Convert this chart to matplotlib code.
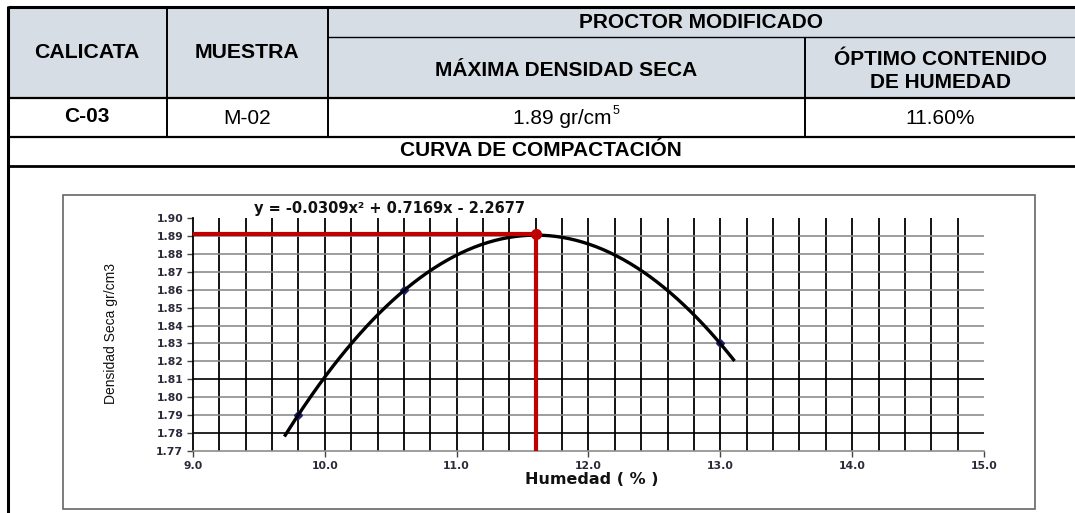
import matplotlib
matplotlib.use("Agg")
import matplotlib.pyplot as plt
from matplotlib import font_manager
from matplotlib.patches import Rectangle
import numpy as np

# table content
header_cols = ["CALICATA", "MUESTRA"]
proctor_title = "PROCTOR MODIFICADO"
proctor_cols = ["MÁXIMA DENSIDAD SECA", "ÓPTIMO CONTENIDO\nDE HUMEDAD"]
row_values = ["C-03", "M-02", "1.89 gr/cm", "11.60%"]
density_exp = "5"
section_title = "CURVA DE COMPACTACIÓN"

# chart data
humedad = [9.8, 10.6, 13.0]
densidad = [1.79, 1.86, 1.83]
trend_coef = [-0.0309, 0.7169, -2.2677]   # from the trendline equation
trend_range = [9.7, 13.1]
opt_humedad = 11.6
max_densidad = 1.891
equation = "y = -0.0309x² + 0.7169x - 2.2677"

names = {f.name for f in font_manager.fontManager.ttflist}
narrow = "Liberation Sans Narrow" if "Liberation Sans Narrow" in names else "Liberation Sans"

W, H = 1075, 513
fig = plt.figure(figsize=(W / 100, H / 100), dpi=100)
bg = fig.add_axes([0, 0, 1, 1])
bg.set_xlim(0, W)
bg.set_ylim(H, 0)
bg.axis("off")

head_fill = "#d7dde5"
bg.add_patch(Rectangle((8, 7), W - 8, 91, facecolor=head_fill, edgecolor="none"))

def hline(y, x0, x1, lw):
    bg.plot([x0, x1], [y, y], color="black", lw=lw, solid_capstyle="butt")

def vline(x, y0, y1, lw):
    bg.plot([x, x], [y0, y1], color="black", lw=lw, solid_capstyle="butt")

hline(7, 8, W, 2.2)
hline(37, 328, W, 1.0)
hline(98, 8, W, 1.6)
hline(137, 8, W, 1.6)
hline(166, 8, W, 2.0)
vline(8, 6, H, 2.2)
vline(167, 7, 137, 1.4)
vline(328, 7, 137, 1.4)
vline(805, 37, 137, 1.4)

tf = dict(family="Liberation Sans", ha="center", va="center", color="black")
bg.text(87, 53, header_cols[0], fontsize=15.3, weight="bold", **tf)
bg.text(247, 53, header_cols[1], fontsize=15.3, weight="bold", **tf)
bg.text(701, 22, proctor_title, fontsize=15, weight="bold", **tf)
bg.text(566, 70, proctor_cols[0], fontsize=15, weight="bold", **tf)
bg.text(940, 71, proctor_cols[1], fontsize=15, weight="bold", linespacing=1.3, **tf)
bg.text(87, 116, row_values[0], fontsize=15, weight="bold", **tf)
bg.text(247, 119, row_values[1], fontsize=15, **tf)
t = bg.text(562, 119, row_values[2], fontsize=15, **tf)
bg.annotate(density_exp, xy=(1, 0.62), xycoords=t, xytext=(1, 0),
            textcoords="offset points", fontsize=9, family="Liberation Sans",
            ha="left", va="bottom", color="black")
bg.text(940, 119, row_values[3], fontsize=15, **tf)
bg.text(541, 151, section_title, fontsize=15, weight="bold", **tf)

# chart frame
bg.add_patch(Rectangle((63, 195), 972, 314, facecolor="white", edgecolor="#666666", lw=1.2))

x0, x1, yt, yb = 193, 984, 218, 451
ax = fig.add_axes([x0 / W, 1 - yb / H, (x1 - x0) / W, (yb - yt) / H])
ax.set_xlim(9.0, 15.0)
ax.set_ylim(1.77, 1.90)
ax.patch.set_alpha(0)

for v in np.arange(9.2, 14.9, 0.2):
    ax.plot([v, v], [1.77, 1.90], color="black", lw=1.3, zorder=1)
for v in np.arange(1.78, 1.895, 0.01):
    dark = round(v, 2) in (1.78, 1.81)
    ax.plot([9.0, 15.0], [v, v], color="black" if dark else "#8c8c8c", lw=1.2, zorder=1)

for s in ["top", "right"]:
    ax.spines[s].set_visible(False)
ax.spines["left"].set_color("black")
ax.spines["left"].set_linewidth(1.3)
ax.spines["bottom"].set_color("#8c8c8c")
ax.spines["bottom"].set_linewidth(1.2)

yt_vals = np.round(np.arange(1.77, 1.905, 0.01), 2)
ax.set_yticks(yt_vals)
ax.set_yticklabels([f"{v:.2f}" for v in yt_vals])
ax.set_xticks(np.arange(9, 16, 1))
ax.set_xticklabels([f"{v:.1f}" for v in np.arange(9, 16, 1)])
ax.tick_params(axis="both", length=4, width=1, color="#444444", labelsize=7.8,
               labelcolor="#2a2a3a", pad=3)
for lab in ax.get_xticklabels() + ax.get_yticklabels():
    lab.set_fontweight("bold")

# data points and trend curve
ax.plot(humedad, densidad, linestyle="none", marker="D", ms=4, color="#1f1f7a", zorder=3)
xs = np.linspace(trend_range[0], trend_range[1], 200)
ax.plot(xs, np.polyval(trend_coef, xs), color="black", lw=2.4, zorder=4)

# optimum lines
ax.plot([9.0, opt_humedad], [max_densidad, max_densidad], color="#c00000", lw=3.0,
        zorder=5, clip_on=False, solid_capstyle="butt")
ax.plot([opt_humedad, opt_humedad], [max_densidad, 1.77], color="#c00000", lw=3.0,
        zorder=5, solid_capstyle="butt")
ax.plot([opt_humedad], [max_densidad], marker="o", ms=7, color="#c00000", zorder=6)

ax.text((390 - x0) / (x1 - x0), 1 + 9 / (yb - yt), equation, transform=ax.transAxes,
        ha="center", va="center", fontsize=10.5, weight="bold", color="#111111")
fig.text(592 / W, 1 - 480 / H, "Humedad ( % )", ha="center", va="center",
         fontsize=11.5, weight="bold", color="#111111")
fig.text(111 / W, 1 - 333 / H, "Densidad Seca gr/cm3", rotation=90, ha="center",
         va="center", fontsize=10, family=narrow, color="#111111")

fig.savefig("out.png", dpi=100)
